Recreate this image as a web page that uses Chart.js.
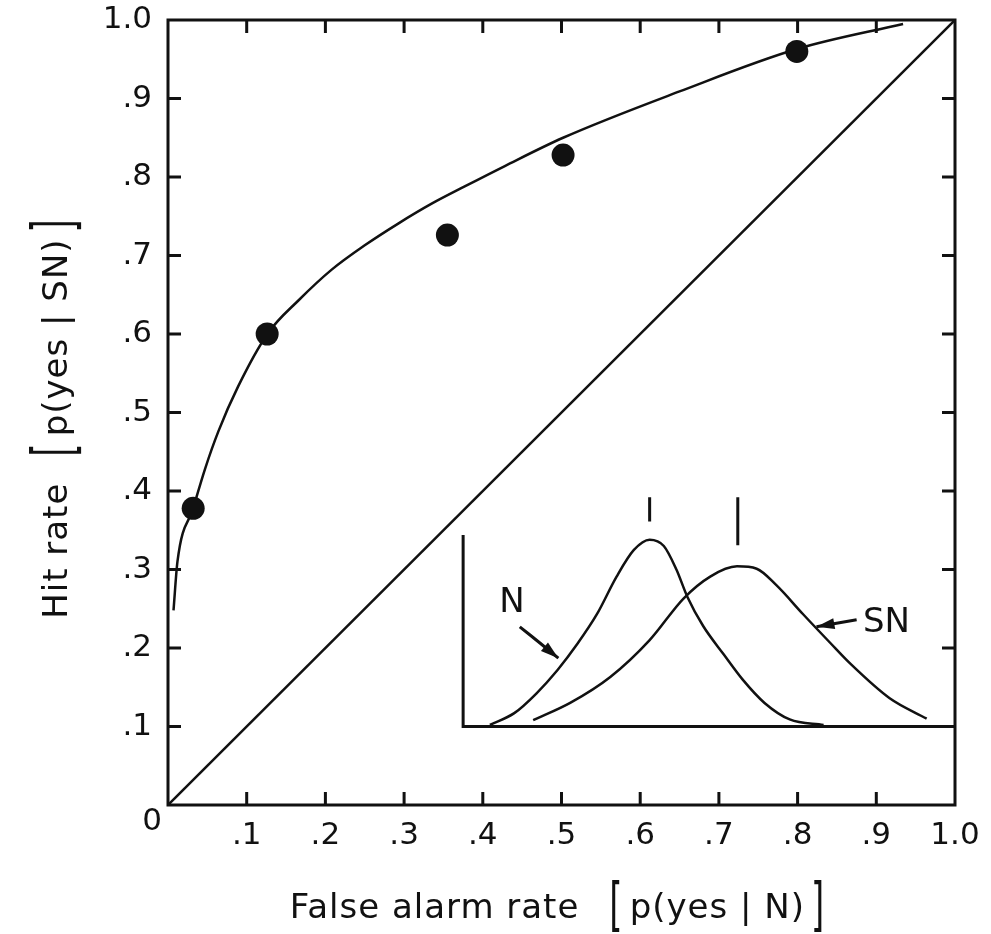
<!DOCTYPE html>
<html>
<head>
<meta charset="utf-8">
<title>ROC curve</title>
<script src="https://cdn.jsdelivr.net/npm/chart.js@4.4.1/dist/chart.umd.min.js"></script>
<style>
  html, body { margin: 0; padding: 0; background: #fff; }
  canvas { display: block; }
</style>
</head>
<body>
<canvas id="canvas" width="991" height="934"></canvas>
<script>
// observed points (false alarm rate, hit rate)
const faRate = [0.032, 0.126, 0.355, 0.502, 0.799];
const hitRate = [0.378, 0.600, 0.726, 0.828, 0.960];

// fitted ROC curve
const curveFa = [0.007, 0.012, 0.032, 0.047, 0.064, 0.089, 0.127, 0.166, 0.208, 0.250, 0.293, 0.335, 0.377, 0.428, 0.502, 0.650, 0.799, 0.934];
const curveHit = [0.248, 0.310, 0.378, 0.428, 0.476, 0.533, 0.601, 0.643, 0.682, 0.713, 0.741, 0.766, 0.788, 0.814, 0.850, 0.909, 0.963, 0.995];

// chance diagonal
const chanceX = [0, 1];
const chanceY = [0, 1];

// inset: axes, N and SN distributions
const insetAxisX = [0.375, 0.375, 1.0];
const insetAxisY = [0.344, 0.100, 0.100];
const noiseX = [0.409, 0.440, 0.468, 0.495, 0.520, 0.545, 0.570, 0.592, 0.612, 0.630, 0.646, 0.660, 0.680, 0.706, 0.730, 0.758, 0.790, 0.833];
const noiseY = [0.102, 0.117, 0.142, 0.172, 0.205, 0.243, 0.291, 0.325, 0.338, 0.330, 0.300, 0.265, 0.228, 0.192, 0.160, 0.130, 0.109, 0.102];
const signalX = [0.464, 0.511, 0.562, 0.612, 0.655, 0.689, 0.723, 0.748, 0.773, 0.807, 0.841, 0.867, 0.917, 0.964];
const signalY = [0.108, 0.130, 0.163, 0.210, 0.263, 0.291, 0.304, 0.301, 0.280, 0.243, 0.207, 0.180, 0.136, 0.110];

// means of the two distributions (short vertical marks)
const meanX = [0.612, 0.724];
const meanTop = [0.392, 0.392];
const meanBottom = [0.361, 0.331];

// labels and arrows in the inset
const insetLabels = ['N', 'SN'];
const insetLabelX = [0.437, 0.913];
const insetLabelY = [0.257, 0.232];
const nArrowX = [0.447, 0.473, 0.496];
const nArrowY = [0.227, 0.206, 0.187];
const snArrowX = [0.875, 0.824];
const snArrowY = [0.236, 0.227];

// tick labels
const xTickLabels = ['', '.1', '.2', '.3', '.4', '.5', '.6', '.7', '.8', '.9', '1.0'];
const yTickLabels = ['', '.1', '.2', '.3', '.4', '.5', '.6', '.7', '.8', '.9', '1.0'];
const originLabel = '0';

const ink = '#111';
const face = '"DejaVu Sans", Arial, sans-serif';

function pts(xs, ys) { return xs.map((x, i) => ({ x, y: ys[i] })); }
function lineSet(data, extra) {
	return Object.assign({
		data, showLine: true, pointRadius: 0, borderColor: ink,
		borderWidth: 2.5, fill: false
	}, extra || {});
}

// frame, inward ticks, origin label, arrowheads, inset text
const decorations = {
	id: 'decorations',
	afterDatasetsDraw(chart) {
		const { ctx, chartArea: a, scales: { x, y } } = chart;
		const tl = 13;
		ctx.save();
		ctx.strokeStyle = ink;
		ctx.fillStyle = ink;
		ctx.lineWidth = 3;
		ctx.strokeRect(a.left, a.top, a.right - a.left, a.bottom - a.top);
		ctx.beginPath();
		x.ticks.forEach(t => {
			if (t.value <= 0 || t.value >= 1) return;
			const px = x.getPixelForValue(t.value);
			ctx.moveTo(px, a.bottom); ctx.lineTo(px, a.bottom - tl);
			ctx.moveTo(px, a.top); ctx.lineTo(px, a.top + tl);
		});
		y.ticks.forEach(t => {
			if (t.value <= 0 || t.value >= 1) return;
			const py = y.getPixelForValue(t.value);
			ctx.moveTo(a.left, py); ctx.lineTo(a.left + tl, py);
			ctx.moveTo(a.right, py); ctx.lineTo(a.right - tl, py);
		});
		ctx.stroke();

		// arrowheads on datasets flagged as arrows
		chart.data.datasets.forEach((ds, i) => {
			if (!ds.arrow) return;
			const els = chart.getDatasetMeta(i).data;
			const p1 = els[els.length - 2], p2 = els[els.length - 1];
			const ang = Math.atan2(p2.y - p1.y, p2.x - p1.x);
			const len = 18, half = 5.5;
			ctx.beginPath();
			ctx.moveTo(p2.x, p2.y);
			ctx.lineTo(p2.x - len * Math.cos(ang) + half * Math.sin(ang), p2.y - len * Math.sin(ang) - half * Math.cos(ang));
			ctx.lineTo(p2.x - len * Math.cos(ang) - half * Math.sin(ang), p2.y - len * Math.sin(ang) + half * Math.cos(ang));
			ctx.closePath();
			ctx.fill();
		});

		// inset labels
		ctx.font = '34px ' + face;
		ctx.textAlign = 'center';
		ctx.textBaseline = 'middle';
		insetLabels.forEach((s, i) => {
			ctx.fillText(s, x.getPixelForValue(insetLabelX[i]), y.getPixelForValue(insetLabelY[i]));
		});

		// shared origin label
		ctx.font = '31px ' + face;
		ctx.fillText(originLabel, x.getPixelForValue(0) - 16, y.getPixelForValue(0) + 17);
		ctx.restore();
	},
	afterDraw(chart) {
		const { ctx, chartArea: a } = chart;
		const txt = '34px ' + face;
		// pieces: [text, gap after, tall bracket?]
		const xTitle = [['False alarm rate', 30, false], ['[', 6, true], ['p(yes | N)', 6, false], [']', 0, true]];
		const yTitle = [['Hit rate', 26, false], ['[', 6, true], ['p(yes | SN)', 6, false], [']', 0, true]];
		function drawGroup(parts, cx, base, rot) {
			ctx.save();
			ctx.fillStyle = ink;
			ctx.textBaseline = 'alphabetic';
			ctx.textAlign = 'left';
			ctx.letterSpacing = '1px';
			ctx.font = txt;
			let total = 0;
			const widths = parts.map(p => { const w = ctx.measureText(p[0]).width; total += w + p[1]; return w; });
			if (rot) { ctx.translate(base, cx); ctx.rotate(-Math.PI / 2); }
			else { ctx.translate(cx, base); }
			let pos = -total / 2;
			parts.forEach((p, i) => {
				if (p[2]) {
					ctx.save();
					ctx.translate(pos, 7);
					ctx.scale(1, 1.7);
					ctx.fillText(p[0], 0, 0);
					ctx.restore();
				} else {
					ctx.fillText(p[0], pos, 0);
				}
				pos += widths[i] + p[1];
			});
			ctx.restore();
		}
		drawGroup(xTitle, (a.left + a.right) / 2 - 4, 918, false);
		drawGroup(yTitle, (a.top + a.bottom) / 2 + 6, 67, true);
	}
};

const chart = new Chart(document.getElementById('canvas').getContext('2d'), {
	type: 'scatter',
	data: {
		datasets: [
			{ data: pts(faRate, hitRate), pointRadius: 11.5, pointBackgroundColor: ink, pointBorderWidth: 0, showLine: false },
			lineSet(pts(curveFa, curveHit), { cubicInterpolationMode: 'monotone' }),
			lineSet(pts(chanceX, chanceY)),
			lineSet(pts(insetAxisX, insetAxisY), { borderWidth: 3 }),
			lineSet(pts(noiseX, noiseY), { cubicInterpolationMode: 'monotone' }),
			lineSet(pts(signalX, signalY), { cubicInterpolationMode: 'monotone' }),
			lineSet(pts([meanX[0], meanX[0]], [meanTop[0], meanBottom[0]]), { borderWidth: 3 }),
			lineSet(pts([meanX[1], meanX[1]], [meanTop[1], meanBottom[1]]), { borderWidth: 3 }),
			lineSet(pts(nArrowX, nArrowY), { tension: 0.4, borderWidth: 3, arrow: true }),
			lineSet(pts(snArrowX, snArrowY), { borderWidth: 3, arrow: true })
		]
	},
	options: {
		responsive: false,
		animation: false,
		events: [],
		layout: { padding: { top: 20, right: 36, left: 0, bottom: 0 } },
		plugins: { legend: { display: false }, tooltip: { enabled: false } },
		scales: {
			x: {
				type: 'linear', min: 0, max: 1,
				grid: { display: false }, border: { display: false },
				ticks: {
					stepSize: 0.1, autoSkip: false, maxRotation: 0, padding: 4,
					color: ink, font: { family: face, size: 31 },
					callback: (v, i) => xTickLabels[i]
				},
				afterFit: s => { s.height = 129; s.paddingLeft = 0; s.paddingRight = 0; }
			},
			y: {
				type: 'linear', min: 0, max: 1,
				grid: { display: false }, border: { display: false },
				ticks: {
					stepSize: 0.1, autoSkip: false, padding: 8,
					color: ink, font: { family: face, size: 31 },
					callback: (v, i) => yTickLabels[i]
				},
				afterFit: s => { s.width = 168; s.paddingTop = 0; s.paddingBottom = 0; }
			}
		}
	},
	plugins: [decorations]
});
</script>
</body>
</html>
